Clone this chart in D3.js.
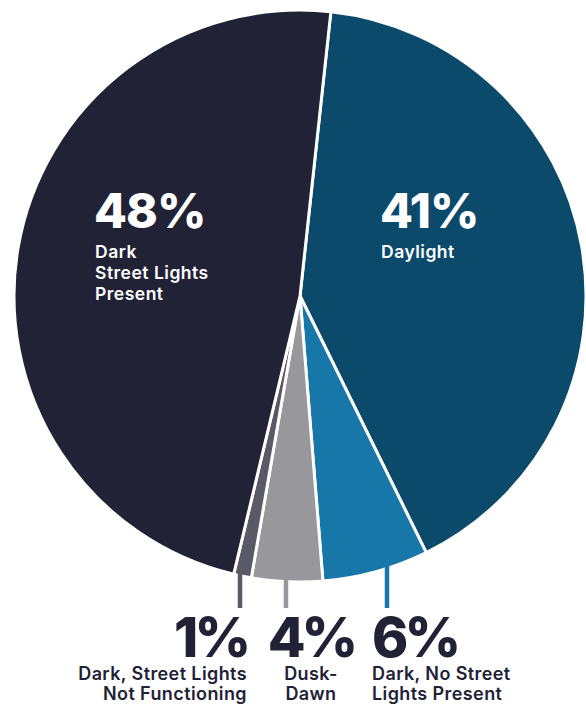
<!DOCTYPE html>
<html><head><meta charset="utf-8">
<script src="https://cdn.jsdelivr.net/npm/d3@7"></script>
<style>
html,body{margin:0;padding:0;background:#fff;}
svg{display:block;font-family:Inter,"Noto Sans",sans-serif;}
</style></head>
<body><svg id="c" width="586" height="707"></svg>
<script>
const categories = ["Daylight","Dark, No Street Lights Present","Dusk-Dawn","Dark, Street Lights Not Functioning","Dark Street Lights Present"];
const values = [41, 6, 4, 1, 48];
const pctLabels = ["41%","6%","4%","1%","48%"];
const colors = ["#0c4a6c","#1777a8","#98979c","#5a5966","#222236"];

const svg = d3.select("#c");
const cx = 300, cy = 296, r = 286;
const startA = 6.2 * Math.PI / 180;
const pie = d3.pie().sort(null).value(d => d).startAngle(startA).endAngle(startA + 2*Math.PI);
const arcs = pie(values);
const arc = d3.arc().innerRadius(0).outerRadius(r);
const g = svg.append("g").attr("transform", `translate(${cx},${cy})`);
g.selectAll("path").data(arcs).join("path")
  .attr("d", arc).attr("fill", (d,i) => colors[i])
  .attr("stroke", "#fff").attr("stroke-width", 3).attr("stroke-linejoin","round");

// Leader lines for small slices (indices 1,2,3)
const leaderEnd = 608;
[1,2,3].forEach(i => {
  const xs = {1: 387, 2: 286, 3: 240}[i];
  const yTop = cy + Math.sqrt(r*r - (xs-cx)*(xs-cx)) - 6;
  svg.append("line").attr("x1", xs).attr("x2", xs).attr("y1", yTop).attr("y2", leaderEnd)
    .attr("stroke", colors[i]).attr("stroke-width", 4.5);
});

// Inside labels
function inside(i, x, yBig, lines) {
  svg.append("text").attr("x", x).attr("y", yBig).attr("fill", "#fff")
    .attr("font-size", 48).attr("font-weight", 800).attr("letter-spacing", -1).text(pctLabels[i]);
  lines.forEach((t, k) => {
    svg.append("text").attr("x", x + 1).attr("y", yBig + 30 + k * 21).attr("fill", "#fff")
      .attr("font-size", 17.5).attr("font-weight", 600).attr("letter-spacing", 0.5).text(t);
  });
}
inside(4, 94, 228, ["Dark", "Street Lights", "Present"]);
inside(0, 380, 228, ["Daylight"]);

// Bottom labels
const navy = "#222236";
function bottom(i, x, anchor, lines) {
  svg.append("text").attr("x", x).attr("y", 657).attr("fill", navy).attr("text-anchor", anchor)
    .attr("font-size", 55).attr("font-weight", 800).attr("letter-spacing", -4).text(pctLabels[i]);
  lines.forEach((t, k) => {
    svg.append("text").attr("x", x).attr("y", 680 + k * 20).attr("fill", navy).attr("text-anchor", anchor)
      .attr("font-size", 18).attr("font-weight", 600).attr("letter-spacing", 0.4).text(t);
  });
}
bottom(3, 247, "end", ["Dark, Street Lights", "Not Functioning"]);
bottom(2, 311, "middle", ["Dusk-", "Dawn"]);
bottom(1, 372, "start", ["Dark, No Street", "Lights Present"]);
</script></body></html>
